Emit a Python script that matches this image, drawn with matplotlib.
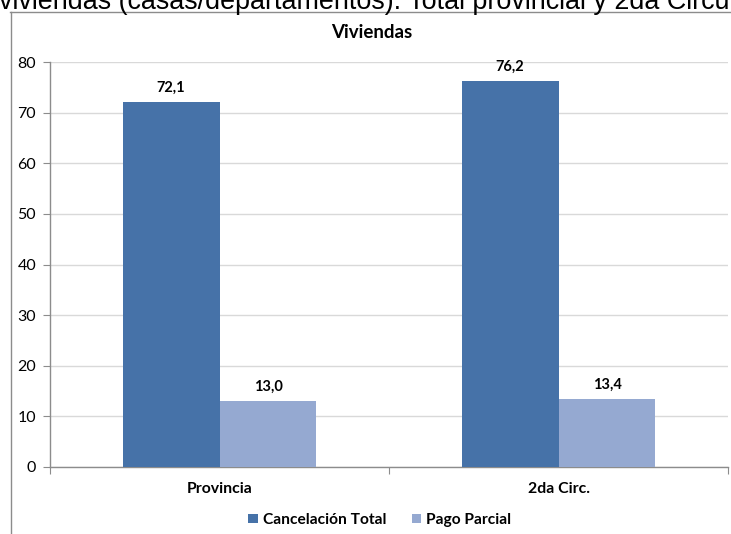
import matplotlib.pyplot as plt
from matplotlib.lines import Line2D
import numpy as np

categories = ["Provincia", "2da Circ."]
series_names = ["Cancelación Total", "Pago Parcial"]
cancelacion_total = [72.1, 76.2]
pago_parcial = [13.0, 13.4]
y_ticks = [0, 10, 20, 30, 40, 50, 60, 70, 80]

W, H = 731, 534
DARK = "#4672A8"
LIGHT = "#95A9D1"
GRID = "#D9D9D9"
AXIS = "#8C8C8C"
FONT = ["Lato", "DejaVu Sans"]

plt.rcParams["font.family"] = FONT

fig = plt.figure(figsize=(W / 100, H / 100), dpi=100)
ax = fig.add_axes([50 / W, (H - 467) / H, 678 / W, 405 / H])

x = np.arange(len(categories))
width = 0.286
b1 = ax.bar(x - width / 2, cancelacion_total, width, color=DARK, label=series_names[0], zorder=3)
b2 = ax.bar(x + width / 2, pago_parcial, width, color=LIGHT, label=series_names[1], zorder=3)

for bars in (b1, b2):
    for rect in bars:
        v = rect.get_height()
        ax.annotate(f"{v:.1f}".replace(".", ","),
                    (rect.get_x() + rect.get_width() / 2, v),
                    xytext=(0, 5), textcoords="offset points",
                    ha="center", va="bottom", fontsize=10.5, fontweight="bold")

ax.set_xlim(-0.5, len(categories) - 0.5)
ax.set_ylim(0, 80)
ax.set_yticks(y_ticks)
ax.yaxis.grid(True, color=GRID, linewidth=1.0, zorder=0)
ax.tick_params(axis="y", direction="out", length=5, color=AXIS, labelsize=11.5, pad=5)

# category labels between boundary ticks
ax.set_xticks(np.arange(len(categories) + 1) - 0.5)
ax.set_xticklabels([])
ax.set_xticks(x, minor=True)
ax.set_xticklabels(categories, minor=True, fontsize=11.4, fontweight="bold")
ax.tick_params(axis="x", which="major", direction="out", length=5, color=AXIS)
ax.tick_params(axis="x", which="minor", length=0, pad=11)

for side in ("top", "right"):
    ax.spines[side].set_visible(False)
for side in ("left", "bottom"):
    ax.spines[side].set_color(AXIS)
    ax.spines[side].set_linewidth(1.0)

fig.text(372 / W, 1 - 32 / H, "Viviendas", ha="center", va="center",
         fontsize=13.5, fontweight="bold")

fig.legend(loc="center", bbox_to_anchor=(380 / W, 1 - 520 / H), ncol=2,
           frameon=False, prop={"size": 11.2, "weight": "bold"},
           handlelength=0.6, handleheight=0.6, handletextpad=0.35,
           columnspacing=1.6)

# chart frame (partially cropped) and cut-off heading above it
fig.add_artist(Line2D([10.5 / W, 10.5 / W], [0, 1 - 12 / H], color=AXIS, lw=1))
fig.add_artist(Line2D([10 / W, 1], [1 - 12 / H, 1 - 12 / H], color=AXIS, lw=1))
fig.text(-1 / W, 1 - 9 / H, "viviendas (casas/departamentos). Total provincial y 2da Circunscripción",
         ha="left", va="baseline", fontsize=19.4, family=["Liberation Sans", "DejaVu Sans"])

fig.savefig("out.png", dpi=100)
